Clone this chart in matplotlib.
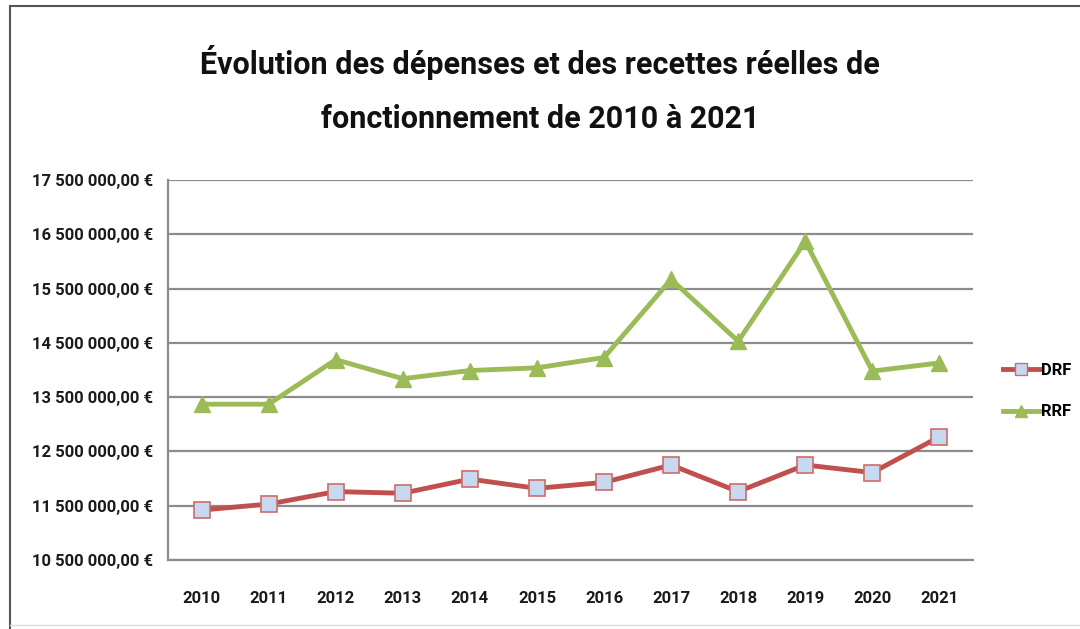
import matplotlib
matplotlib.use("Agg")
import matplotlib.pyplot as plt
from matplotlib.ticker import FuncFormatter
import matplotlib.lines as mlines

years = ["2010", "2011", "2012", "2013", "2014", "2015", "2016", "2017", "2018", "2019", "2020", "2021"]
drf = [11420000, 11530000, 11760000, 11730000, 11990000, 11820000, 11930000, 12250000, 11760000, 12250000, 12110000, 12770000]
rrf = [13370000, 13370000, 14190000, 13840000, 13990000, 14040000, 14230000, 15670000, 14530000, 16370000, 13980000, 14130000]
yticks = [10500000, 11500000, 12500000, 13500000, 14500000, 15500000, 16500000, 17500000]
title = "Évolution des dépenses et des recettes réelles de\nfonctionnement de 2010 à 2021"

fam = ["Roboto", "DejaVu Sans"]
plt.rcParams["font.family"] = fam

fig = plt.figure(figsize=(10.8, 6.29), dpi=100)
ax = fig.add_axes([168/1080, 1-560/629, (973-168)/1080, (560-180)/629])

x = list(range(len(years)))
ax.plot(x, drf, color="#c0504d", lw=3.5, marker="s", ms=11, mfc="#c6d9f1",
        mec="#d06b68", mew=1.2, label="DRF", zorder=3)
ax.plot(x, rrf, color="#9bbb59", lw=3.5, marker="^", ms=12, mfc="#9bbb59",
        mec="#9bbb59", label="RRF", zorder=3)

ax.set_xlim(-0.5, len(years)-0.5)
ax.set_ylim(yticks[0], yticks[-1])
ax.set_yticks(yticks)
ax.set_xticks(x)
ax.set_xticklabels(years)

def fmt(v, p):
    s = f"{int(round(v)):,}".replace(",", " ")
    return s + ",00 €"
ax.yaxis.set_major_formatter(FuncFormatter(fmt))

ax.grid(axis="y", color="#8c8c8c", lw=1.6)
ax.set_axisbelow(True)
for s in ["top", "right"]:
    ax.spines[s].set_visible(False)
ax.spines["left"].set_color("#8c8c8c")
ax.spines["left"].set_linewidth(1.6)
ax.spines["bottom"].set_color("#8c8c8c")
ax.spines["bottom"].set_linewidth(1.6)
ax.tick_params(axis="both", length=0, labelsize=12, colors="#1a1a1a")
ax.tick_params(axis="y", pad=11)
ax.tick_params(axis="x", pad=22)
for lab in ax.get_xticklabels() + ax.get_yticklabels():
    lab.set_fontweight("bold")

fig.text(0.5, 1-90/629, title, ha="center", va="center", fontsize=22,
         fontweight="bold", linespacing=2.0, color="#111111")

h1 = mlines.Line2D([], [], color="#c0504d", lw=3.5, marker="s", ms=9, mfc="#c6d9f1", mec="#d06b68")
h2 = mlines.Line2D([], [], color="#9bbb59", lw=3.5, marker="^", ms=9, mfc="#9bbb59", mec="#9bbb59")
leg = fig.legend([h1, h2], ["DRF", "RRF"], loc="center left",
                 bbox_to_anchor=(988/1080, 1-391/629), frameon=False,
                 handlelength=2.2, handletextpad=0.1, labelspacing=1.6,
                 prop={"weight": "bold", "size": 12})

# outer border
fig.add_artist(mlines.Line2D([10/1080, 10/1080], [0, 1-6/629], color="#555555", lw=1.5, transform=fig.transFigure))
fig.add_artist(mlines.Line2D([10/1080, 1], [1-6/629, 1-6/629], color="#555555", lw=1.5, transform=fig.transFigure))
fig.add_artist(mlines.Line2D([10/1080, 1], [4/629, 4/629], color="#dddddd", lw=1.0, transform=fig.transFigure))

fig.savefig("out.png", dpi=100, facecolor="white")
